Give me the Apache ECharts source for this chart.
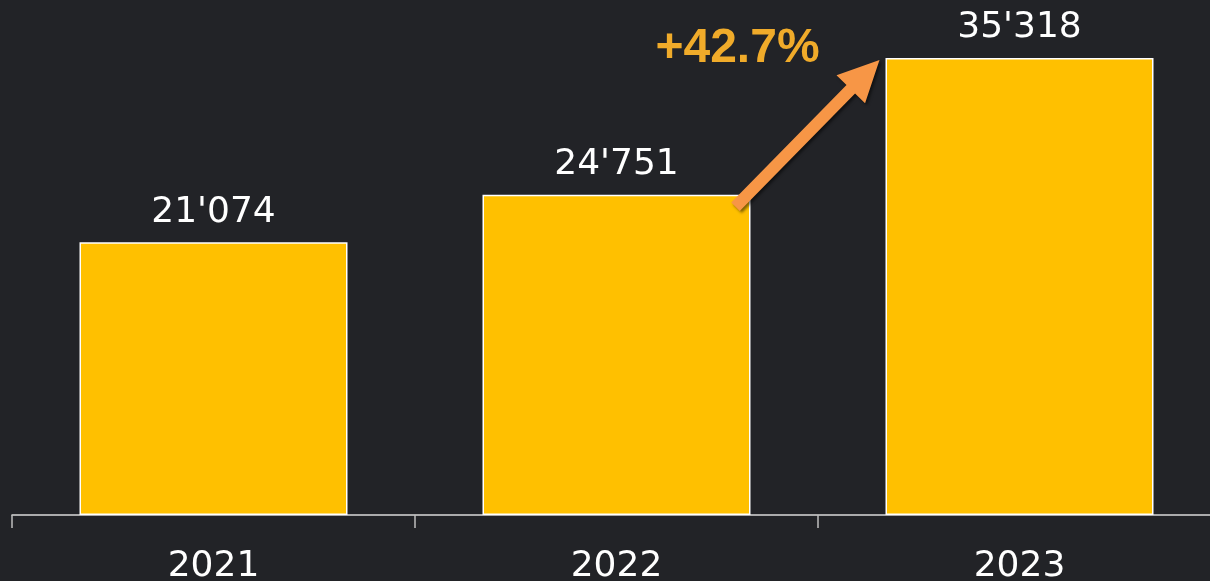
<!DOCTYPE html>
<html>
<head>
<meta charset="utf-8">
<script src="https://cdn.jsdelivr.net/npm/echarts@6/dist/echarts.min.js"></script>
<style>
  html, body { margin: 0; padding: 0; background: #222327; }
  #main { width: 1210px; height: 581px; }
</style>
</head>
<body>
<div id="main"></div>
<script>
// data
var years = ['2021', '2022', '2023'];
var values = [21074, 24751, 35318];

function fmt(v) {
  return String(v).replace(/\B(?=(\d{3})+(?!\d))/g, "'");
}

var chart = echarts.init(document.getElementById('main'));
var barWidth = 268;

chart.setOption({
  backgroundColor: '#222327',
  animation: false,
  grid: { left: 12, top: 0, bottom: 66, width: 1209, outerBoundsMode: 'none', containLabel: false },
  xAxis: {
    type: 'category',
    data: years,
    axisLine: { show: true, lineStyle: { color: '#d9d9d9', width: 1.5 } },
    axisTick: { show: true, length: 13, interval: 0, alignWithLabel: false, lineStyle: { color: '#bfbfbf', width: 1.5 } },
    axisLabel: {
      color: '#ffffff',
      fontFamily: 'DejaVu Sans',
      fontSize: 36,
      margin: 34
    }
  },
  yAxis: {
    type: 'value',
    min: 0,
    max: 39800,
    show: false,
    splitLine: { show: false }
  },
  series: [{
    type: 'bar',
    data: values,
    barWidth: barWidth,
    itemStyle: { color: '#FFC000', borderColor: '#ffffff', borderWidth: 1.5 },
    label: {
      show: true,
      position: 'top',
      distance: 12,
      color: '#ffffff',
      fontFamily: 'DejaVu Sans',
      fontSize: 36,
      formatter: function (p) { return fmt(p.value); }
    }
  }]
});

// growth arrow from 2022 to 2023
var p2 = chart.convertToPixel({ seriesIndex: 0 }, [1, values[1]]);
var p3 = chart.convertToPixel({ seriesIndex: 0 }, [2, values[2]]);
var S = [p2[0] + barWidth / 2 - 15, p2[1] + 12];
var E = [p3[0] - barWidth / 2 - 6, p3[1] + 2];
var dx = E[0] - S[0], dy = E[1] - S[1];
var len = Math.sqrt(dx * dx + dy * dy);
var ux = dx / len, uy = dy / len;
var nx = -uy, ny = ux;
var w = 12, hl = 41, hw = 40;
var B = [E[0] - ux * hl, E[1] - uy * hl];
var pts = [
  [S[0] + nx * w / 2, S[1] + ny * w / 2],
  [B[0] + nx * w / 2, B[1] + ny * w / 2],
  [B[0] + nx * hw / 2, B[1] + ny * hw / 2],
  E,
  [B[0] - nx * hw / 2, B[1] - ny * hw / 2],
  [B[0] - nx * w / 2, B[1] - ny * w / 2],
  [S[0] - nx * w / 2, S[1] - ny * w / 2]
];
var growth = (values[2] / values[1] - 1) * 100;

chart.setOption({
  graphic: [
    {
      type: 'polygon',
      z: 100,
      shape: { points: pts },
      style: {
        fill: '#F79646',
        shadowBlur: 3,
        shadowColor: 'rgba(0,0,0,0.5)',
        shadowOffsetX: 2,
        shadowOffsetY: 2
      }
    },
    {
      type: 'text',
      z: 100,
      x: E[0] - 142,
      y: E[1] - 11,
      style: {
        text: '+' + growth.toFixed(1) + '%',
        fill: '#F0AB2A',
        font: 'bold 48px "Liberation Sans", Arial, sans-serif',
        align: 'center',
        verticalAlign: 'middle'
      }
    }
  ]
});
</script>
</body>
</html>
